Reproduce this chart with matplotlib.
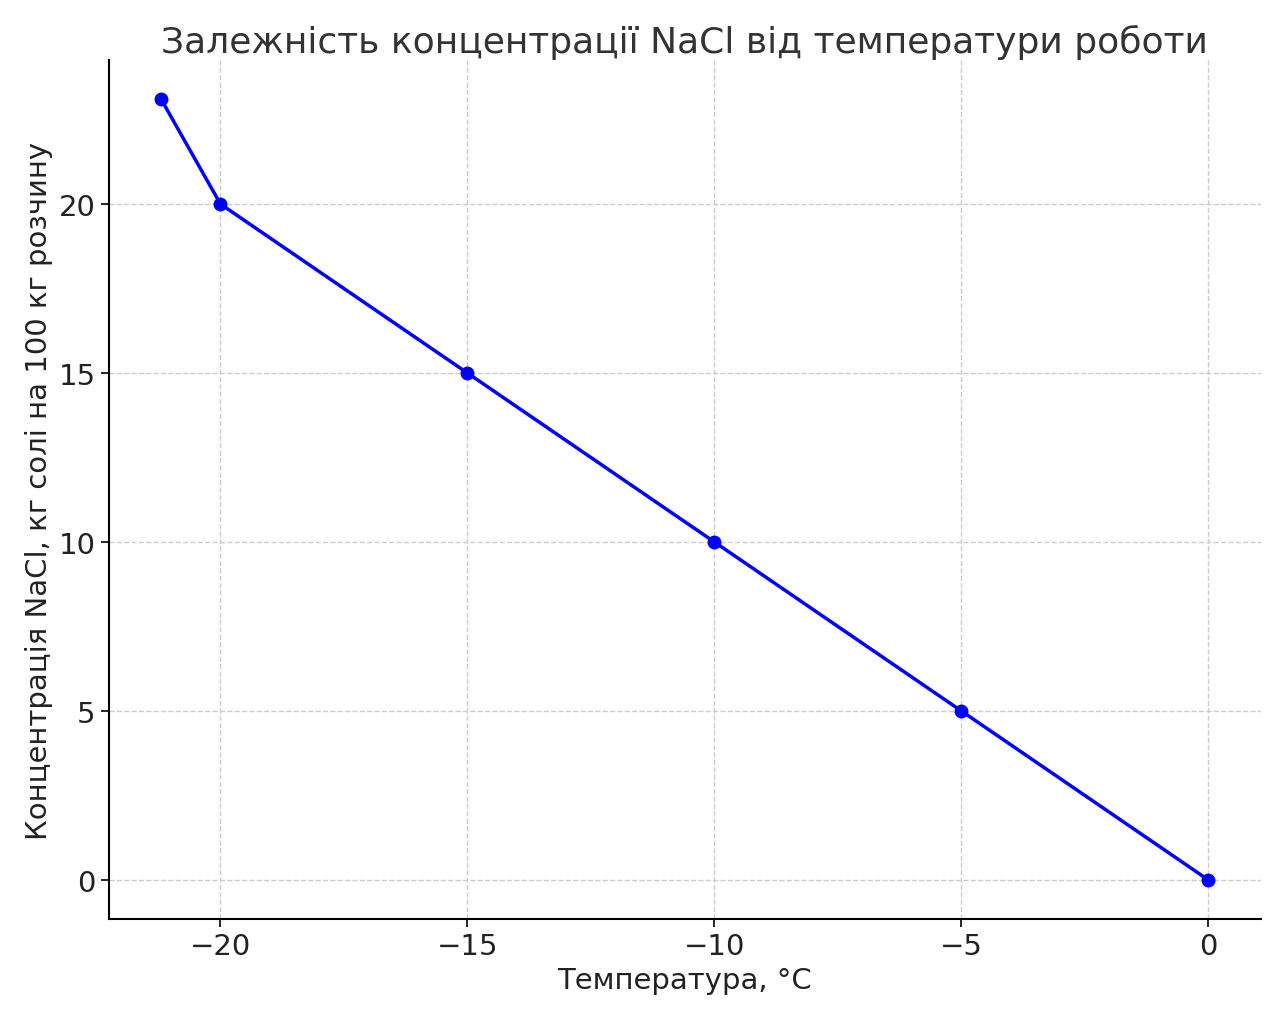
import matplotlib.pyplot as plt

temps = [-21.2, -20, -15, -10, -5, 0]
conc = [23.1, 20, 15, 10, 5, 0]

fig, ax = plt.subplots(figsize=(12.8, 10.2), dpi=100)
ax.plot(temps, conc, color='blue', marker='o', markersize=9, linewidth=2.5)
ax.set_title('Залежність концентрації NaCl від температури роботи', fontsize=26, color='#333333')
ax.set_xlabel('Температура, °C', fontsize=21, color='#222222')
ax.set_ylabel('Концентрація NaCl, кг солі на 100 кг розчину', fontsize=21, color='#222222')
ax.tick_params(labelsize=21, length=6, width=1.2, labelcolor='#222222')
ax.grid(True, linestyle='--', color='#cccccc', linewidth=1)
ax.spines['top'].set_visible(False)
ax.spines['right'].set_visible(False)
ax.spines['left'].set_linewidth(1.5)
ax.spines['bottom'].set_linewidth(1.5)
plt.subplots_adjust(left=0.085, right=0.985, top=0.94, bottom=0.098)
plt.savefig('out.png')
